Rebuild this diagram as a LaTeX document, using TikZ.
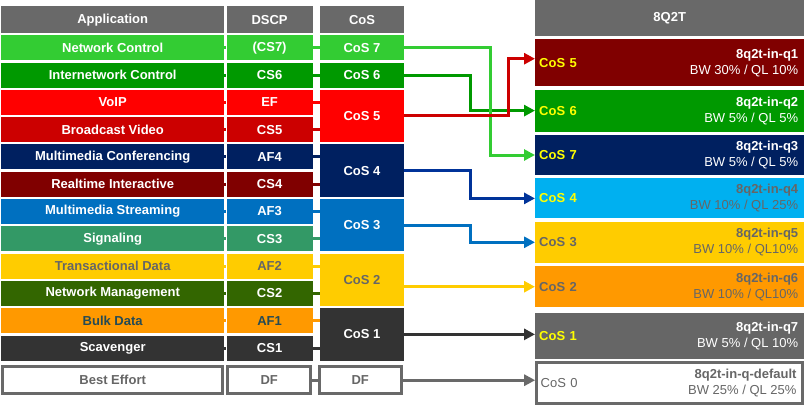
\documentclass[tikz,border=0pt]{standalone}
\usepackage{fontspec}
\setmainfont{Liberation Sans}
\usetikzlibrary{arrows.meta,calc,positioning}
\usepackage{xcolor}
\definecolor{hdrgray}{HTML}{696969}
\definecolor{txtgray}{HTML}{666666}
\definecolor{nctrl}{HTML}{33CC33}
\definecolor{inctrl}{HTML}{009900}
\definecolor{voip}{HTML}{FF0000}
\definecolor{bcast}{HTML}{CC0000}
\definecolor{mmconf}{HTML}{002060}
\definecolor{rtint}{HTML}{800000}
\definecolor{mmstream}{HTML}{0070C0}
\definecolor{signal}{HTML}{339966}
\definecolor{trans}{HTML}{FFCC00}
\definecolor{netmgmt}{HTML}{336600}
\definecolor{bulk}{HTML}{FF9900}
\definecolor{bulktxt}{HTML}{254B55}
\definecolor{scav}{HTML}{333333}
\definecolor{lightq}{HTML}{00B0F0}
\definecolor{cosfour}{HTML}{003399}
\definecolor{cosyellow}{HTML}{FFFF00}
\newcommand{\cellfont}{\fontsize{13}{16}\selectfont}

\begin{document}
\begin{tikzpicture}[
    x=1pt, y=-1pt,
    font=\cellfont,
    cell/.style={minimum height=25pt, inner sep=0pt, font=\cellfont\bfseries, text=white},
    appcell/.style={cell, minimum width=223pt},
    dscpcell/.style={cell, minimum width=86pt},
    coscell/.style={cell, minimum width=84pt},
    hdr/.style={fill=hdrgray, minimum height=27pt},
    plain/.style={draw=hdrgray, line width=3pt, fill=white, text=txtgray,
      minimum height=27pt},
    queue/.style={anchor=north west, minimum width=269pt, text width=261pt,
      inner xsep=4pt, inner ysep=0pt, align=left, font=\cellfont\bfseries, text=cosyellow},
    qinfo/.style={anchor=east, xshift=-6pt, inner sep=0pt, align=right, text=white},
    stub/.style={line width=3pt},
    link/.style={line width=3pt, -{Triangle[length=11pt,width=11pt]}}
  ]
    \useasboundingbox (0,0) rectangle (811,408);

    % left table
    \node[appcell, hdr, anchor=north west] (apphdr) at (1,6) {Application};
    \node[dscpcell, hdr, right=2pt of apphdr] (dscphdr) {DSCP};
    \node[coscell, hdr, right=7pt of dscphdr] (coshdr) {CoS};

    \node[appcell, fill=nctrl, below=1.6pt of apphdr] (app1) {Network Control};
    \node[appcell, fill=inctrl, below=1.9pt of app1] (app2) {Internetwork Control};
    \node[appcell, fill=voip, below=1.9pt of app2] (app3) {VoIP};
    \node[appcell, fill=bcast, below=1.9pt of app3] (app4) {Broadcast Video};
    \node[appcell, fill=mmconf, below=1.9pt of app4] (app5) {Multimedia Conferencing};
    \node[appcell, fill=rtint, below=1.9pt of app5] (app6) {Realtime Interactive};
    \node[appcell, fill=mmstream, below=1.9pt of app6] (app7) {Multimedia Streaming};
    \node[appcell, fill=signal, below=1.9pt of app7] (app8) {Signaling};
    \node[appcell, fill=trans, text=txtgray, below=1.9pt of app8] (app9) {Transactional Data};
    \node[appcell, fill=netmgmt, below=1.9pt of app9] (app10) {Network Management};
    \node[appcell, fill=bulk, text=bulktxt, below=1.9pt of app10] (app11) {Bulk Data};
    \node[appcell, fill=scav, below=1.9pt of app11] (app12) {Scavenger};
    \node[appcell, plain, minimum width=220pt, below=4.5pt of app12] (app13) {Best Effort};

    \node[dscpcell, fill=nctrl, right=2pt of app1] (dscp1) {(CS7)};
    \node[dscpcell, fill=inctrl, right=2pt of app2] (dscp2) {CS6};
    \node[dscpcell, fill=voip, right=2pt of app3] (dscp3) {EF};
    \node[dscpcell, fill=bcast, right=2pt of app4] (dscp4) {CS5};
    \node[dscpcell, fill=mmconf, right=2pt of app5] (dscp5) {AF4};
    \node[dscpcell, fill=rtint, right=2pt of app6] (dscp6) {CS4};
    \node[dscpcell, fill=mmstream, right=2pt of app7] (dscp7) {AF3};
    \node[dscpcell, fill=signal, right=2pt of app8] (dscp8) {CS3};
    \node[dscpcell, fill=trans, text=txtgray, right=2pt of app9] (dscp9) {AF2};
    \node[dscpcell, fill=netmgmt, right=2pt of app10] (dscp10) {CS2};
    \node[dscpcell, fill=bulk, text=bulktxt, right=2pt of app11] (dscp11) {AF1};
    \node[dscpcell, fill=scav, right=2pt of app12] (dscp12) {CS1};
    \node[dscpcell, plain, minimum width=83pt, right=2pt of app13] (dscp13) {DF};

    \coordinate (m5) at ($(dscp3.east)!0.5!(dscp4.east)$);
    \coordinate (m4) at ($(dscp5.east)!0.5!(dscp6.east)$);
    \coordinate (m3) at ($(dscp7.east)!0.5!(dscp8.east)$);
    \coordinate (m2) at ($(dscp9.east)!0.5!(dscp10.east)$);
    \coordinate (m1) at ($(dscp11.east)!0.5!(dscp12.east)$);

    \node[coscell, fill=nctrl, right=7pt of dscp1] (cos7) {CoS 7};
    \node[coscell, fill=inctrl, right=7pt of dscp2] (cos6) {CoS 6};
    \node[coscell, fill=voip, minimum height=52.3pt, right=7pt of m5] (cos5) {CoS 5};
    \node[coscell, fill=mmconf, minimum height=52.3pt, right=7pt of m4] (cos4) {CoS 4};
    \node[coscell, fill=mmstream, minimum height=52.3pt, right=7pt of m3] (cos3) {CoS 3};
    \node[coscell, fill=trans, text=txtgray, minimum height=52.3pt, right=7pt of m2] (cos2) {CoS 2};
    \node[coscell, fill=scav, minimum height=52.3pt, right=7pt of m1] (cos1) {CoS 1};
    \node[coscell, plain, minimum width=82pt, right=5.5pt of dscp13] (cosdf) {DF};

    % row stubs
    \draw[stub, nctrl] (app1.east) -- (dscp1.west) (dscp1.east) -- (dscp1.east -| coshdr.west);
    \draw[stub, inctrl] (app2.east) -- (dscp2.west) (dscp2.east) -- (dscp2.east -| coshdr.west);
    \draw[stub, voip] (app3.east) -- (dscp3.west) (dscp3.east) -- (dscp3.east -| coshdr.west);
    \draw[stub, bcast] (app4.east) -- (dscp4.west) (dscp4.east) -- (dscp4.east -| coshdr.west);
    \draw[stub, mmconf] (app5.east) -- (dscp5.west) (dscp5.east) -- (dscp5.east -| coshdr.west);
    \draw[stub, rtint] (app6.east) -- (dscp6.west) (dscp6.east) -- (dscp6.east -| coshdr.west);
    \draw[stub, mmstream] (app7.east) -- (dscp7.west) (dscp7.east) -- (dscp7.east -| coshdr.west);
    \draw[stub, signal] (app8.east) -- (dscp8.west) (dscp8.east) -- (dscp8.east -| coshdr.west);
    \draw[stub, trans] (app9.east) -- (dscp9.west) (dscp9.east) -- (dscp9.east -| coshdr.west);
    \draw[stub, netmgmt] (app10.east) -- (dscp10.west) (dscp10.east) -- (dscp10.east -| coshdr.west);
    \draw[stub, bulk] (app11.east) -- (dscp11.west) (dscp11.east) -- (dscp11.east -| coshdr.west);
    \draw[stub, scav] (app12.east) -- (dscp12.west) (dscp12.east) -- (dscp12.east -| coshdr.west);
    \draw[stub, hdrgray] (dscp13.east) -- (cosdf.west);

    % 8Q2T queues
    \node[hdr, anchor=north west, minimum width=269pt, minimum height=36pt,
      inner sep=0pt, font=\cellfont\bfseries, text=white] (qhdr) at (535,0) {8Q2T};
    \node[queue, fill=rtint, minimum height=47pt] (q1) at (535,39) {CoS 5};
    \node[queue, fill=inctrl, minimum height=42pt, below=3pt of q1] (q2) {CoS 6};
    \node[queue, fill=mmconf, minimum height=40pt, below=3pt of q2] (q3) {CoS 7};
    \node[queue, fill=lightq, minimum height=40pt, below=3pt of q3] (q4) {CoS 4};
    \node[queue, fill=trans, text=txtgray, minimum height=41pt, below=3pt of q4] (q5) {CoS 3};
    \node[queue, fill=bulk, text=txtgray, minimum height=41pt, below=3pt of q5] (q6) {CoS 2};
    \node[queue, fill=txtgray, minimum height=46pt, below=5pt of q6] (q7) {CoS 1};
    \node[queue, draw=hdrgray, line width=3pt, fill=white, text=txtgray, font=\cellfont,
      minimum width=266pt, text width=258pt, minimum height=41pt, below=2pt of q7] (qdef) {CoS 0};

    \node[qinfo] (q1info) at (q1.east) {\textbf{8q2t-in-q1}\\BW 30\% / QL 10\%};
    \node[qinfo] (q2info) at (q2.east) {\textbf{8q2t-in-q2}\\BW 5\% / QL 5\%};
    \node[qinfo] (q3info) at (q3.east) {\textbf{8q2t-in-q3}\\BW 5\% / QL 5\%};
    \node[qinfo, text=txtgray] (q4info) at (q4.east) {\textbf{8q2t-in-q4}\\BW 10\% / QL 25\%};
    \node[qinfo, text=txtgray] (q5info) at (q5.east) {\textbf{8q2t-in-q5}\\BW 10\% / QL10\%};
    \node[qinfo, text=txtgray] (q6info) at (q6.east) {\textbf{8q2t-in-q6}\\BW 10\% / QL10\%};
    \node[qinfo] (q7info) at (q7.east) {\textbf{8q2t-in-q7}\\BW 5\% / QL 10\%};
    \node[qinfo, text=txtgray, xshift=-1.5pt] (qdefinfo) at (qdef.east) {\textbf{8q2t-in-q-default}\\BW 25\% / QL 25\%};

    % mapping arrows
    \draw[link, inctrl] (cos6.east) -- ++(66,0) |- (q2.west);
    \draw[link, nctrl] (cos7.east) -- ++(86,0) |- (q3.west);
    \draw[link, bcast] (cos5.east) -- ++(104,0) |- ([yshift=4pt]q1.west);
    \draw[link, cosfour] (cos4.east) -- ++(66,0) |- (q4.west);
    \draw[link, mmstream] (cos3.east) -- ++(66,0) |- (q5.west);
    \draw[link, trans] (q6.west -| cos2.east) -- (q6.west);
    \draw[link, scav] (cos1.east) -- (cos1.east -| q7.west);
    \draw[link, hdrgray] (cosdf.east) -- (cosdf.east -| qdef.west);
\end{tikzpicture}
\end{document}
